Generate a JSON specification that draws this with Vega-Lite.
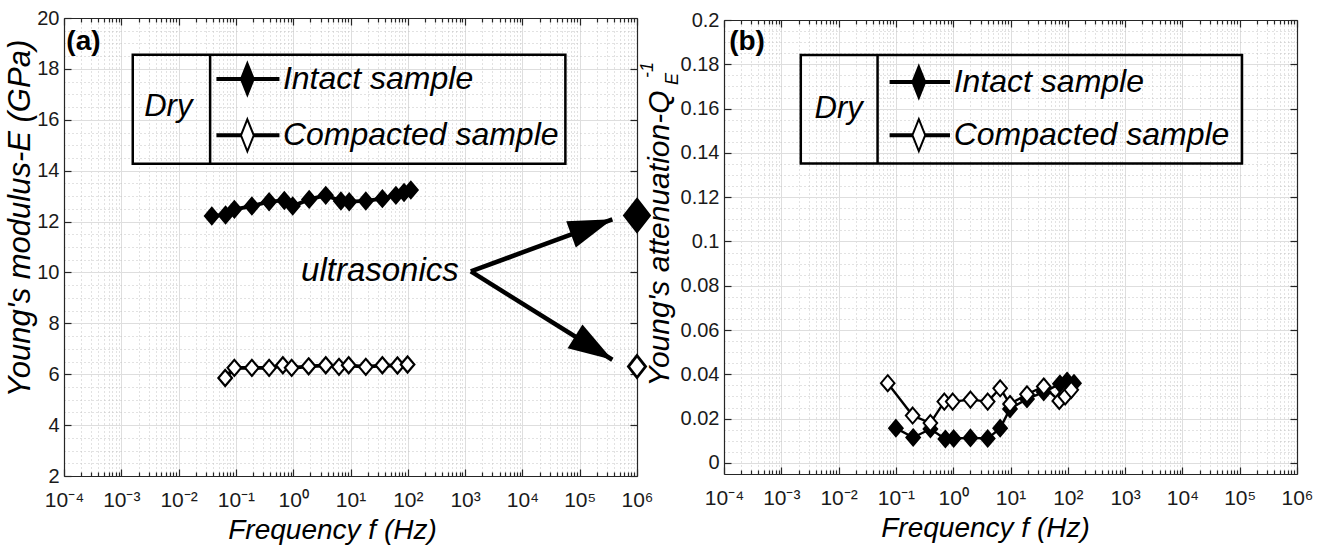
{
  "$schema": "https://vega.github.io/schema/vega-lite/v6.json",
  "padding": {"left": 4, "top": 8, "right": 5, "bottom": 5},
  "config": {
    "font": "Liberation Sans, sans-serif",
    "view": {"stroke": null},
    "axis": {"labelFont": "Liberation Sans, sans-serif", "titleFont": "Liberation Sans, sans-serif", "labelColor": "#1a1a1a", "titleColor": "#000000", "domainColor": "#262626", "tickColor": "#262626", "domainWidth": 1.2, "tickWidth": 1.2},
    "text": {"font": "Liberation Sans, sans-serif"}
  },
  "datasets": {
    "a": [
      {"f": 0.038, "E": 12.22, "sample": "Intact"},
      {"f": 0.066, "E": 12.26, "sample": "Intact"},
      {"f": 0.094, "E": 12.48, "sample": "Intact"},
      {"f": 0.19, "E": 12.61, "sample": "Intact"},
      {"f": 0.38, "E": 12.78, "sample": "Intact"},
      {"f": 0.70, "E": 12.83, "sample": "Intact"},
      {"f": 0.98, "E": 12.61, "sample": "Intact"},
      {"f": 1.9, "E": 12.87, "sample": "Intact"},
      {"f": 3.7, "E": 13.03, "sample": "Intact"},
      {"f": 6.8, "E": 12.81, "sample": "Intact"},
      {"f": 9.5, "E": 12.78, "sample": "Intact"},
      {"f": 18.5, "E": 12.81, "sample": "Intact"},
      {"f": 36, "E": 12.90, "sample": "Intact"},
      {"f": 62, "E": 13.03, "sample": "Intact"},
      {"f": 86, "E": 13.14, "sample": "Intact"},
      {"f": 113, "E": 13.24, "sample": "Intact"},
      {"f": 0.065, "E": 5.85, "sample": "Compacted"},
      {"f": 0.094, "E": 6.25, "sample": "Compacted"},
      {"f": 0.19, "E": 6.25, "sample": "Compacted"},
      {"f": 0.38, "E": 6.25, "sample": "Compacted"},
      {"f": 0.66, "E": 6.35, "sample": "Compacted"},
      {"f": 0.94, "E": 6.25, "sample": "Compacted"},
      {"f": 1.86, "E": 6.31, "sample": "Compacted"},
      {"f": 3.7, "E": 6.35, "sample": "Compacted"},
      {"f": 6.3, "E": 6.29, "sample": "Compacted"},
      {"f": 9.3, "E": 6.35, "sample": "Compacted"},
      {"f": 18.5, "E": 6.29, "sample": "Compacted"},
      {"f": 36, "E": 6.35, "sample": "Compacted"},
      {"f": 66, "E": 6.34, "sample": "Compacted"},
      {"f": 99, "E": 6.38, "sample": "Compacted"}
    ],
    "aus": [
      {"f": 1000000, "E": 12.24, "sample": "Intact"},
      {"f": 1000000, "E": 6.3, "sample": "Compacted"}
    ],
    "annA": [
      {"kind": "box", "x1": 0.001585, "x2": 56234, "y1": 14.27, "y2": 18.56},
      {"kind": "div", "x1": 0.03548, "y1": 14.27, "y2": 18.56},
      {"kind": "leg", "sample": "Intact", "label": "Intact sample", "x1": 0.04571, "x2": 0.5754, "xm": 0.1585, "xt": 0.6607, "y1": 17.6},
      {"kind": "leg", "sample": "Compacted", "label": "Compacted sample", "x1": 0.04571, "x2": 0.5754, "xm": 0.1585, "xt": 0.6607, "y1": 15.39},
      {"kind": "dry", "label": "Dry", "x1": 0.006607, "y1": 16.5},
      {"kind": "tag", "label": "(a)", "x1": 0.00011, "y1": 19.05},
      {"kind": "us", "label": "ultrasonics", "x1": 776, "y1": 10.04},
      {"kind": "arrow", "dir": "up", "x1": 1259, "y1": 10.04, "x2": 371535, "y2": 12.09},
      {"kind": "arrow", "dir": "down", "x1": 1259, "y1": 10.04, "x2": 371535, "y2": 6.57}
    ],
    "b": [
      {"f": 0.10, "Q": 0.0157, "sample": "Intact"},
      {"f": 0.20, "Q": 0.0115, "sample": "Intact"},
      {"f": 0.40, "Q": 0.0153, "sample": "Intact"},
      {"f": 0.73, "Q": 0.0108, "sample": "Intact"},
      {"f": 1.02, "Q": 0.011, "sample": "Intact"},
      {"f": 2.0, "Q": 0.0113, "sample": "Intact"},
      {"f": 4.0, "Q": 0.011, "sample": "Intact"},
      {"f": 6.6, "Q": 0.0157, "sample": "Intact"},
      {"f": 9.8, "Q": 0.0244, "sample": "Intact"},
      {"f": 19.4, "Q": 0.0289, "sample": "Intact"},
      {"f": 38, "Q": 0.032, "sample": "Intact"},
      {"f": 73, "Q": 0.0357, "sample": "Intact"},
      {"f": 97, "Q": 0.037, "sample": "Intact"},
      {"f": 128, "Q": 0.036, "sample": "Intact"},
      {"f": 0.072, "Q": 0.036, "sample": "Compacted"},
      {"f": 0.196, "Q": 0.0214, "sample": "Compacted"},
      {"f": 0.40, "Q": 0.018, "sample": "Compacted"},
      {"f": 0.70, "Q": 0.0277, "sample": "Compacted"},
      {"f": 0.98, "Q": 0.0277, "sample": "Compacted"},
      {"f": 2.0, "Q": 0.0286, "sample": "Compacted"},
      {"f": 4.0, "Q": 0.0277, "sample": "Compacted"},
      {"f": 6.6, "Q": 0.0337, "sample": "Compacted"},
      {"f": 9.8, "Q": 0.0266, "sample": "Compacted"},
      {"f": 19.4, "Q": 0.031, "sample": "Compacted"},
      {"f": 38, "Q": 0.0345, "sample": "Compacted"},
      {"f": 71, "Q": 0.028, "sample": "Compacted"},
      {"f": 90, "Q": 0.030, "sample": "Compacted"},
      {"f": 115, "Q": 0.033, "sample": "Compacted"}
    ],
    "annB": [
      {"kind": "box", "x1": 0.002188, "x2": 109648, "y1": 0.1352, "y2": 0.1842},
      {"kind": "div", "x1": 0.04786, "y1": 0.1352, "y2": 0.1842},
      {"kind": "leg", "sample": "Intact", "label": "Intact sample", "x1": 0.07762, "x2": 0.879, "xm": 0.2512, "xt": 1.02, "y1": 0.172},
      {"kind": "leg", "sample": "Compacted", "label": "Compacted sample", "x1": 0.07762, "x2": 0.879, "xm": 0.2512, "xt": 1.02, "y1": 0.148},
      {"kind": "dry", "label": "Dry", "x1": 0.01, "y1": 0.160},
      {"kind": "tag", "label": "(b)", "x1": 0.000123, "y1": 0.190},
      {"kind": "sub", "label": "E", "x1": 0.0000129, "y1": 0.1734},
      {"kind": "sup", "label": "-1", "x1": 0.00000472, "y1": 0.1774}
    ]
  },
  "hconcat": [
    {
      "width": 573,
      "height": 458,
      "resolve": {"axis": {"x": "independent", "y": "independent"}},
      "layer": [
        {
          "data": {"name": "a"},
          "mark": {"type": "line", "color": "black", "strokeWidth": 3.8},
          "encoding": {
            "x": {"field": "f", "type": "quantitative", "scale": {"type": "log", "domain": [0.0001, 1000000], "nice": false},
              "axis": {"orient": "bottom", "values": [0.0001, 0.001, 0.01, 0.1, 1, 10, 100, 1000, 10000, 100000, 1000000],
                "labelExpr": "'10' + (round(log(datum.value)/LN10) < 0 ? '⁻' : '') + ['⁰','¹','²','³','⁴','⁵','⁶'][abs(round(log(datum.value)/LN10))]",
                "grid": true, "gridColor": "#dedede", "gridWidth": 1, "ticks": false, "domain": true,
                "labelFontSize": 21, "labelPadding": 13, "labelFlush": false, "labelOverlap": false,
                "title": "Frequency f (Hz)", "titleFontSize": 28, "titleFontStyle": "italic", "titleFontWeight": "normal", "titlePadding": 6, "titleX": 268}},
            "y": {"field": "E", "type": "quantitative", "scale": {"domain": [2, 20], "nice": false, "zero": false},
              "axis": {"orient": "left", "values": [2, 4, 6, 8, 10, 12, 14, 16, 18, 20], "grid": true, "gridColor": "#dedede", "ticks": false, "domain": true,
                "labelFontSize": 20, "labelPadding": 5, "labelOverlap": false,
                "title": "Young's modulus-E (GPa)", "titleFontSize": 31, "titleFontStyle": "italic", "titleFontWeight": "normal", "titlePadding": 0, "titleY": 200}},
            "detail": {"field": "sample"}
          }
        },
        {
          "data": {"name": "a"},
          "mark": {"type": "point", "shape": "M0,-1L0.85,0L0,1L-0.85,0Z", "size": 256, "filled": true, "stroke": "black", "strokeWidth": 2.2, "opacity": 1},
          "encoding": {
            "x": {"field": "f", "type": "quantitative",
              "axis": {"orient": "top", "values": [0.0002,0.0003,0.0004,0.0005,0.0006,0.0007,0.0008,0.0009,0.002,0.003,0.004,0.005,0.006,0.007,0.008,0.009,0.02,0.03,0.04,0.05,0.06,0.07,0.08,0.09,0.2,0.3,0.4,0.5,0.6,0.7,0.8,0.9,2,3,4,5,6,7,8,9,20,30,40,50,60,70,80,90,200,300,400,500,600,700,800,900,2000,3000,4000,5000,6000,7000,8000,9000,20000,30000,40000,50000,60000,70000,80000,90000,200000,300000,400000,500000,600000,700000,800000,900000],
                "grid": true, "gridColor": "#c4c4c4", "gridDash": [1, 3], "ticks": true, "tickSize": -4, "labels": false, "domain": true, "title": null}},
            "y": {"field": "E", "type": "quantitative",
              "axis": {"orient": "right", "values": [2.5,3,3.5,4.5,5,5.5,6.5,7,7.5,8.5,9,9.5,10.5,11,11.5,12.5,13,13.5,14.5,15,15.5,16.5,17,17.5,18.5,19,19.5],
                "grid": true, "gridColor": "#c4c4c4", "gridDash": [1, 3], "ticks": false, "labels": false, "domain": true, "title": null}},
            "fill": {"field": "sample", "type": "nominal", "scale": {"domain": ["Intact", "Compacted"], "range": ["black", "white"]}, "legend": null}
          }
        },
        {
          "data": {"name": "aus"},
          "mark": {"type": "point", "shape": "M0,-1L0.78,0L0,1L-0.78,0Z", "filled": true, "stroke": "black", "strokeWidth": 2.8, "opacity": 1},
          "encoding": {
            "x": {"field": "f", "type": "quantitative",
              "axis": {"orient": "bottom", "values": [0.0001, 0.001, 0.01, 0.1, 1, 10, 100, 1000, 10000, 100000, 1000000], "grid": false, "ticks": true, "tickSize": -7, "labels": false, "domain": false, "title": null}},
            "y": {"field": "E", "type": "quantitative",
              "axis": {"orient": "left", "values": [2, 4, 6, 8, 10, 12, 14, 16, 18, 20], "grid": false, "ticks": true, "tickSize": -7, "labels": false, "domain": false, "title": null}},
            "fill": {"field": "sample", "type": "nominal", "legend": null},
            "size": {"field": "sample", "type": "nominal", "scale": {"domain": ["Intact", "Compacted"], "range": [1024, 484]}, "legend": null}
          }
        },
        {
          "data": {"name": "annA"},
          "transform": [{"filter": "datum.kind === 'box'"}],
          "mark": {"type": "rect", "filled": false, "color": "black", "strokeWidth": 2.5},
          "encoding": {
            "x": {"field": "x1", "type": "quantitative",
              "axis": {"orient": "top", "values": [0.0001, 0.001, 0.01, 0.1, 1, 10, 100, 1000, 10000, 100000, 1000000], "grid": false, "ticks": true, "tickSize": -7, "labels": false, "domain": false, "title": null}},
            "x2": {"field": "x2"},
            "y": {"field": "y1", "type": "quantitative",
              "axis": {"orient": "right", "values": [2, 4, 6, 8, 10, 12, 14, 16, 18, 20], "grid": false, "ticks": true, "tickSize": -7, "labels": false, "domain": false, "title": null}},
            "y2": {"field": "y2"}
          }
        },
        {
          "data": {"name": "annA"},
          "transform": [{"filter": "datum.kind === 'div'"}],
          "mark": {"type": "rule", "color": "black", "strokeWidth": 2.5},
          "encoding": {
            "x": {"field": "x1", "type": "quantitative",
              "axis": {"orient": "bottom", "values": [0.0002,0.0003,0.0004,0.0005,0.0006,0.0007,0.0008,0.0009,0.002,0.003,0.004,0.005,0.006,0.007,0.008,0.009,0.02,0.03,0.04,0.05,0.06,0.07,0.08,0.09,0.2,0.3,0.4,0.5,0.6,0.7,0.8,0.9,2,3,4,5,6,7,8,9,20,30,40,50,60,70,80,90,200,300,400,500,600,700,800,900,2000,3000,4000,5000,6000,7000,8000,9000,20000,30000,40000,50000,60000,70000,80000,90000,200000,300000,400000,500000,600000,700000,800000,900000],
                "grid": false, "ticks": true, "tickSize": -4, "labels": false, "domain": false, "title": null}},
            "y": {"field": "y1", "type": "quantitative", "axis": null},
            "y2": {"field": "y2"}
          }
        },
        {
          "data": {"name": "annA"},
          "transform": [{"filter": "datum.kind === 'leg'"}],
          "mark": {"type": "rule", "color": "black", "strokeWidth": 4},
          "encoding": {
            "x": {"field": "x1", "type": "quantitative", "axis": null},
            "x2": {"field": "x2"},
            "y": {"field": "y1", "type": "quantitative", "axis": null}
          }
        },
        {
          "data": {"name": "annA"},
          "transform": [{"filter": "datum.kind === 'leg'"}],
          "mark": {"type": "point", "shape": "M0,-1L0.4,0L0,1L-0.4,0Z", "size": 1024, "filled": true, "stroke": "black", "strokeWidth": 2, "opacity": 1},
          "encoding": {
            "x": {"field": "xm", "type": "quantitative", "axis": null},
            "y": {"field": "y1", "type": "quantitative", "axis": null},
            "fill": {"field": "sample", "type": "nominal", "legend": null}
          }
        },
        {
          "data": {"name": "annA"},
          "transform": [{"filter": "datum.kind === 'leg'"}],
          "mark": {"type": "text", "align": "left", "baseline": "middle", "fontSize": 32, "fontStyle": "italic", "color": "black"},
          "encoding": {
            "x": {"field": "xt", "type": "quantitative", "axis": null},
            "y": {"field": "y1", "type": "quantitative", "axis": null},
            "text": {"field": "label"}
          }
        },
        {
          "data": {"name": "annA"},
          "transform": [{"filter": "datum.kind === 'dry'"}],
          "mark": {"type": "text", "align": "center", "baseline": "middle", "fontSize": 31, "fontStyle": "italic", "color": "black"},
          "encoding": {
            "x": {"field": "x1", "type": "quantitative", "axis": null},
            "y": {"field": "y1", "type": "quantitative", "axis": null},
            "text": {"field": "label"}
          }
        },
        {
          "data": {"name": "annA"},
          "transform": [{"filter": "datum.kind === 'tag'"}],
          "mark": {"type": "text", "align": "left", "baseline": "middle", "fontSize": 28, "fontWeight": "bold", "color": "black"},
          "encoding": {
            "x": {"field": "x1", "type": "quantitative", "axis": null},
            "y": {"field": "y1", "type": "quantitative", "axis": null},
            "text": {"field": "label"}
          }
        },
        {
          "data": {"name": "annA"},
          "transform": [{"filter": "datum.kind === 'us'"}],
          "mark": {"type": "text", "align": "right", "baseline": "middle", "fontSize": 33, "fontStyle": "italic", "color": "black"},
          "encoding": {
            "x": {"field": "x1", "type": "quantitative", "axis": null},
            "y": {"field": "y1", "type": "quantitative", "axis": null},
            "text": {"field": "label"}
          }
        },
        {
          "data": {"name": "annA"},
          "transform": [{"filter": "datum.kind === 'arrow'"}],
          "mark": {"type": "rule", "color": "black", "strokeWidth": 4.5},
          "encoding": {
            "x": {"field": "x1", "type": "quantitative", "axis": null},
            "y": {"field": "y1", "type": "quantitative", "axis": null},
            "x2": {"field": "x2"},
            "y2": {"field": "y2"}
          }
        },
        {
          "data": {"name": "annA"},
          "transform": [{"filter": "datum.kind === 'arrow' && datum.dir === 'up'"}],
          "mark": {"type": "point", "shape": "M0,0L-2.2,-0.7L-2.2,0.7Z", "size": 1600, "angle": -20, "filled": true, "color": "black", "opacity": 1},
          "encoding": {
            "x": {"field": "x2", "type": "quantitative", "axis": null},
            "y": {"field": "y2", "type": "quantitative", "axis": null}
          }
        },
        {
          "data": {"name": "annA"},
          "transform": [{"filter": "datum.kind === 'arrow' && datum.dir === 'down'"}],
          "mark": {"type": "point", "shape": "M0,0L-2.2,-0.7L-2.2,0.7Z", "size": 1600, "angle": 32, "filled": true, "color": "black", "opacity": 1},
          "encoding": {
            "x": {"field": "x2", "type": "quantitative", "axis": null},
            "y": {"field": "y2", "type": "quantitative", "axis": null}
          }
        }
      ]
    },
    {
      "width": 573,
      "height": 454,
      "resolve": {"axis": {"x": "independent", "y": "independent"}},
      "layer": [
        {
          "data": {"name": "b"},
          "mark": {"type": "line", "color": "black", "strokeWidth": 2.4},
          "encoding": {
            "x": {"field": "f", "type": "quantitative", "scale": {"type": "log", "domain": [0.0001, 1000000], "nice": false},
              "axis": {"orient": "bottom", "values": [0.0001, 0.001, 0.01, 0.1, 1, 10, 100, 1000, 10000, 100000, 1000000],
                "labelExpr": "'10' + (round(log(datum.value)/LN10) < 0 ? '⁻' : '') + ['⁰','¹','²','³','⁴','⁵','⁶'][abs(round(log(datum.value)/LN10))]",
                "grid": true, "gridColor": "#dedede", "gridWidth": 1, "ticks": false, "domain": true,
                "labelFontSize": 21, "labelPadding": 13, "labelFlush": false, "labelOverlap": false,
                "title": "Frequency f (Hz)", "titleFontSize": 28, "titleFontStyle": "italic", "titleFontWeight": "normal", "titlePadding": 6, "titleX": 261}},
            "y": {"field": "Q", "type": "quantitative", "scale": {"domain": [-0.005, 0.2], "nice": false, "zero": false},
              "axis": {"orient": "left", "values": [0, 0.02, 0.04, 0.06, 0.08, 0.1, 0.12, 0.14, 0.16, 0.18, 0.2], "format": "~g", "grid": true, "gridColor": "#dedede", "ticks": false, "domain": true,
                "labelFontSize": 20, "labelPadding": 5, "labelOverlap": false,
                "title": "Young's attenuation-Q", "titleFontSize": 30, "titleFontStyle": "italic", "titleFontWeight": "normal", "titlePadding": 6, "titleAlign": "right", "titleY": 70}},
            "detail": {"field": "sample"}
          }
        },
        {
          "data": {"name": "b"},
          "mark": {"type": "point", "shape": "M0,-1L0.85,0L0,1L-0.85,0Z", "size": 256, "filled": true, "stroke": "black", "strokeWidth": 2, "opacity": 1},
          "encoding": {
            "x": {"field": "f", "type": "quantitative",
              "axis": {"orient": "top", "values": [0.0002,0.0003,0.0004,0.0005,0.0006,0.0007,0.0008,0.0009,0.002,0.003,0.004,0.005,0.006,0.007,0.008,0.009,0.02,0.03,0.04,0.05,0.06,0.07,0.08,0.09,0.2,0.3,0.4,0.5,0.6,0.7,0.8,0.9,2,3,4,5,6,7,8,9,20,30,40,50,60,70,80,90,200,300,400,500,600,700,800,900,2000,3000,4000,5000,6000,7000,8000,9000,20000,30000,40000,50000,60000,70000,80000,90000,200000,300000,400000,500000,600000,700000,800000,900000],
                "grid": true, "gridColor": "#c4c4c4", "gridDash": [1, 3], "ticks": true, "tickSize": -4, "labels": false, "domain": true, "title": null}},
            "y": {"field": "Q", "type": "quantitative",
              "axis": {"orient": "right", "values": [0.005,0.01,0.015,0.025,0.03,0.035,0.045,0.05,0.055,0.065,0.07,0.075,0.085,0.09,0.095,0.105,0.11,0.115,0.125,0.13,0.135,0.145,0.15,0.155,0.165,0.17,0.175,0.185,0.19,0.195],
                "grid": true, "gridColor": "#c4c4c4", "gridDash": [1, 3], "ticks": false, "labels": false, "domain": true, "title": null}},
            "fill": {"field": "sample", "type": "nominal", "scale": {"domain": ["Intact", "Compacted"], "range": ["black", "white"]}, "legend": null}
          }
        },
        {
          "data": {"name": "annB"},
          "transform": [{"filter": "datum.kind === 'box'"}],
          "mark": {"type": "rect", "filled": false, "color": "black", "strokeWidth": 2.5},
          "encoding": {
            "x": {"field": "x1", "type": "quantitative",
              "axis": {"orient": "bottom", "values": [0.0001, 0.001, 0.01, 0.1, 1, 10, 100, 1000, 10000, 100000, 1000000], "grid": false, "ticks": true, "tickSize": -7, "labels": false, "domain": false, "title": null}},
            "x2": {"field": "x2"},
            "y": {"field": "y1", "type": "quantitative",
              "axis": {"orient": "left", "values": [0, 0.02, 0.04, 0.06, 0.08, 0.1, 0.12, 0.14, 0.16, 0.18, 0.2], "grid": false, "ticks": true, "tickSize": -7, "labels": false, "domain": false, "title": null}},
            "y2": {"field": "y2"}
          }
        },
        {
          "data": {"name": "annB"},
          "transform": [{"filter": "datum.kind === 'div'"}],
          "mark": {"type": "rule", "color": "black", "strokeWidth": 2.5},
          "encoding": {
            "x": {"field": "x1", "type": "quantitative",
              "axis": {"orient": "top", "values": [0.0001, 0.001, 0.01, 0.1, 1, 10, 100, 1000, 10000, 100000, 1000000], "grid": false, "ticks": true, "tickSize": -7, "labels": false, "domain": false, "title": null}},
            "y": {"field": "y1", "type": "quantitative",
              "axis": {"orient": "right", "values": [0, 0.02, 0.04, 0.06, 0.08, 0.1, 0.12, 0.14, 0.16, 0.18, 0.2], "grid": false, "ticks": true, "tickSize": -7, "labels": false, "domain": false, "title": null}},
            "y2": {"field": "y2"}
          }
        },
        {
          "data": {"name": "annB"},
          "transform": [{"filter": "datum.kind === 'leg'"}],
          "mark": {"type": "rule", "color": "black", "strokeWidth": 4},
          "encoding": {
            "x": {"field": "x1", "type": "quantitative",
              "axis": {"orient": "bottom", "values": [0.0002,0.0003,0.0004,0.0005,0.0006,0.0007,0.0008,0.0009,0.002,0.003,0.004,0.005,0.006,0.007,0.008,0.009,0.02,0.03,0.04,0.05,0.06,0.07,0.08,0.09,0.2,0.3,0.4,0.5,0.6,0.7,0.8,0.9,2,3,4,5,6,7,8,9,20,30,40,50,60,70,80,90,200,300,400,500,600,700,800,900,2000,3000,4000,5000,6000,7000,8000,9000,20000,30000,40000,50000,60000,70000,80000,90000,200000,300000,400000,500000,600000,700000,800000,900000],
                "grid": false, "ticks": true, "tickSize": -4, "labels": false, "domain": false, "title": null}},
            "x2": {"field": "x2"},
            "y": {"field": "y1", "type": "quantitative", "axis": null}
          }
        },
        {
          "data": {"name": "annB"},
          "transform": [{"filter": "datum.kind === 'leg'"}],
          "mark": {"type": "point", "shape": "M0,-1L0.4,0L0,1L-0.4,0Z", "size": 1024, "filled": true, "stroke": "black", "strokeWidth": 2, "opacity": 1},
          "encoding": {
            "x": {"field": "xm", "type": "quantitative", "axis": null},
            "y": {"field": "y1", "type": "quantitative", "axis": null},
            "fill": {"field": "sample", "type": "nominal", "legend": null}
          }
        },
        {
          "data": {"name": "annB"},
          "transform": [{"filter": "datum.kind === 'leg'"}],
          "mark": {"type": "text", "align": "left", "baseline": "middle", "fontSize": 32, "fontStyle": "italic", "color": "black"},
          "encoding": {
            "x": {"field": "xt", "type": "quantitative", "axis": null},
            "y": {"field": "y1", "type": "quantitative", "axis": null},
            "text": {"field": "label"}
          }
        },
        {
          "data": {"name": "annB"},
          "transform": [{"filter": "datum.kind === 'dry'"}],
          "mark": {"type": "text", "align": "center", "baseline": "middle", "fontSize": 31, "fontStyle": "italic", "color": "black"},
          "encoding": {
            "x": {"field": "x1", "type": "quantitative", "axis": null},
            "y": {"field": "y1", "type": "quantitative", "axis": null},
            "text": {"field": "label"}
          }
        },
        {
          "data": {"name": "annB"},
          "transform": [{"filter": "datum.kind === 'tag'"}],
          "mark": {"type": "text", "align": "left", "baseline": "middle", "fontSize": 28, "fontWeight": "bold", "color": "black"},
          "encoding": {
            "x": {"field": "x1", "type": "quantitative", "axis": null},
            "y": {"field": "y1", "type": "quantitative", "axis": null},
            "text": {"field": "label"}
          }
        },
        {
          "data": {"name": "annB"},
          "transform": [{"filter": "datum.kind === 'sub' || datum.kind === 'sup'"}],
          "mark": {"type": "text", "align": "center", "baseline": "middle", "fontSize": 18, "fontStyle": "italic", "angle": 270, "color": "black"},
          "encoding": {
            "x": {"field": "x1", "type": "quantitative", "axis": null},
            "y": {"field": "y1", "type": "quantitative", "axis": null},
            "text": {"field": "label"}
          }
        }
      ]
    }
  ],
  "spacing": 87,
  "bounds": "flush",
  "center": true
}
